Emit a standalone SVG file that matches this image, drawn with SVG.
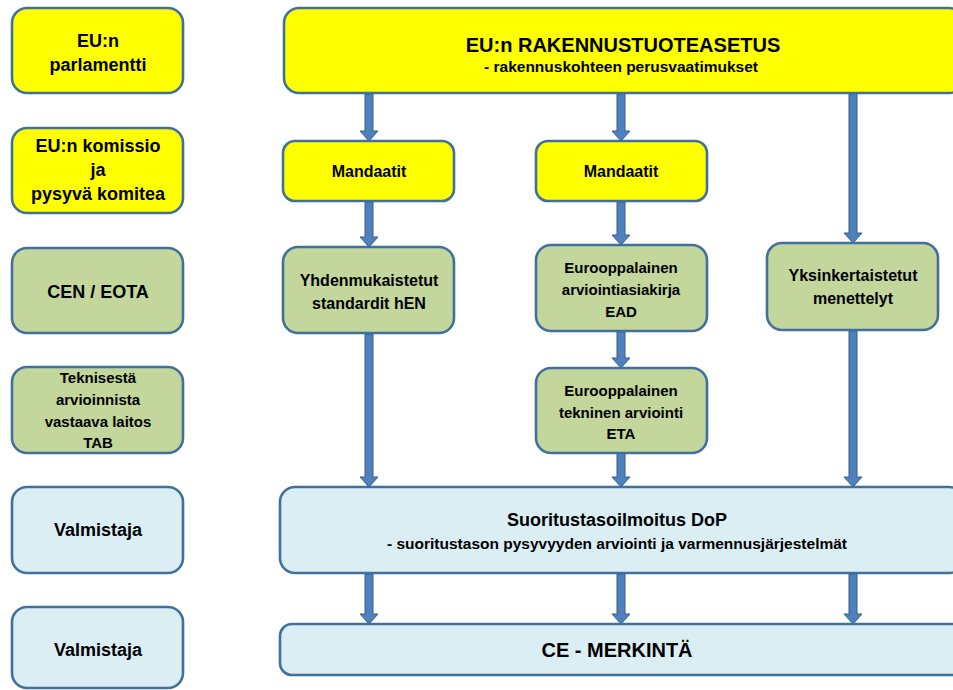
<svg xmlns="http://www.w3.org/2000/svg" width="953" height="690" viewBox="0 0 953 690">
<defs>
<style>
.box{stroke:#41709C;stroke-width:2.6}
.y{fill:#FFFF00}
.g{fill:#C3D69B}
.b{fill:#DBEEF4}
text{font-family:"Liberation Sans",Arial,sans-serif;font-weight:bold;fill:#000;text-anchor:middle}
.l{font-size:18px}
.m{font-size:16px}
.s{font-size:15px}
.arr{fill:#4F81BD;stroke:#385D8A;stroke-width:1}
</style>
</defs>
<rect width="953" height="690" fill="#fff"/>
<g id="connectors">
<path class="arr" d="M365,94 L373,94 L373,131 L378,131 L369,141 L360,131 L365,131 Z"/>
<path class="arr" d="M617,94 L625,94 L625,131 L630,131 L621,141 L612,131 L617,131 Z"/>
<path class="arr" d="M849,94 L857,94 L857,233 L862,233 L853,243 L844,233 L849,233 Z"/>
<path class="arr" d="M365,202 L373,202 L373,237 L378,237 L369,247 L360,237 L365,237 Z"/>
<path class="arr" d="M617,202 L625,202 L625,235 L630,235 L621,245 L612,235 L617,235 Z"/>
<path class="arr" d="M365,334 L373,334 L373,477 L378,477 L369,487 L360,477 L365,477 Z"/>
<path class="arr" d="M617,332 L625,332 L625,358 L630,358 L621,368 L612,358 L617,358 Z"/>
<path class="arr" d="M617,453 L625,453 L625,477 L630,477 L621,487 L612,477 L617,477 Z"/>
<path class="arr" d="M849,331 L857,331 L857,477 L862,477 L853,487 L844,477 L849,477 Z"/>
<path class="arr" d="M365,574 L373,574 L373,614 L378,614 L369,624 L360,614 L365,614 Z"/>
<path class="arr" d="M617,574 L625,574 L625,614 L630,614 L621,624 L612,614 L617,614 Z"/>
<path class="arr" d="M849,574 L857,574 L857,614 L862,614 L853,624 L844,614 L849,614 Z"/>
</g>
<g id="parlamentti">
<rect class="box y" x="12" y="8" width="171" height="85" rx="15"/>
<text class="l" x="98" y="47">EU:n</text>
<text class="l" x="98" y="71">parlamentti</text>
</g>
<g id="komissio">
<rect class="box y" x="12" y="128" width="171" height="85" rx="15"/>
<text class="l" x="98" y="152">EU:n komissio</text>
<text class="l" x="98" y="176">ja</text>
<text class="l" x="98" y="200">pysyvä komitea</text>
</g>
<g id="cen">
<rect class="box g" x="12" y="248" width="171" height="85" rx="15"/>
<text class="l" x="98" y="298">CEN / EOTA</text>
</g>
<g id="tab">
<rect class="box g" x="12" y="367" width="171" height="86" rx="15"/>
<text class="s" x="98" y="383">Teknisestä</text>
<text class="s" x="98" y="405">arvioinnista</text>
<text class="s" x="98" y="427">vastaava laitos</text>
<text class="s" x="98" y="448">TAB</text>
</g>
<g id="valmistaja1">
<rect class="box b" x="12" y="487" width="171" height="86" rx="15"/>
<text class="l" x="98" y="536">Valmistaja</text>
</g>
<g id="valmistaja2">
<rect class="box b" x="12" y="607" width="171" height="81" rx="15"/>
<text class="l" x="98" y="656">Valmistaja</text>
</g>
<g id="rakennustuoteasetus">
<rect class="box y" x="284" y="8" width="680" height="85" rx="15"/>
<text x="623" y="52" style="font-size:20px">EU:n RAKENNUSTUOTEASETUS</text>
<text x="621" y="72" style="font-size:15.5px">- rakennuskohteen perusvaatimukset</text>
</g>
<g id="mandaatit1">
<rect class="box y" x="283" y="141" width="171" height="60" rx="12"/>
<text class="m" x="369" y="177">Mandaatit</text>
</g>
<g id="mandaatit2">
<rect class="box y" x="536" y="141" width="171" height="60" rx="12"/>
<text class="m" x="621" y="177">Mandaatit</text>
</g>
<g id="hen">
<rect class="box g" x="283" y="247" width="171" height="86" rx="15"/>
<text class="m" x="369" y="286">Yhdenmukaistetut</text>
<text class="m" x="369" y="309">standardit hEN</text>
</g>
<g id="ead">
<rect class="box g" x="536" y="245" width="171" height="86" rx="15"/>
<text class="s" x="621" y="273">Eurooppalainen</text>
<text class="s" x="621" y="295">arviointiasiakirja</text>
<text class="s" x="621" y="317">EAD</text>
</g>
<g id="yksinkertaistetut">
<rect class="box g" x="767" y="243" width="171" height="87" rx="15"/>
<text class="m" x="853" y="281">Yksinkertaistetut</text>
<text class="m" x="853" y="304">menettelyt</text>
</g>
<g id="eta">
<rect class="box g" x="536" y="368" width="171" height="85" rx="15"/>
<text class="s" x="621" y="396">Eurooppalainen</text>
<text class="s" x="621" y="418">tekninen arviointi</text>
<text class="s" x="621" y="439">ETA</text>
</g>
<g id="dop">
<rect class="box b" x="280" y="487" width="684" height="86" rx="15"/>
<text x="617" y="526" style="font-size:18px">Suoritustasoilmoitus DoP</text>
<text x="617" y="549" style="font-size:15.5px">- suoritustason pysyvyyden arviointi ja varmennusjärjestelmät</text>
</g>
<g id="ce">
<rect class="box b" x="280" y="624" width="684" height="51" rx="12"/>
<text x="617" y="657" style="font-size:20px">CE - MERKINTÄ</text>
</g>
</svg>
